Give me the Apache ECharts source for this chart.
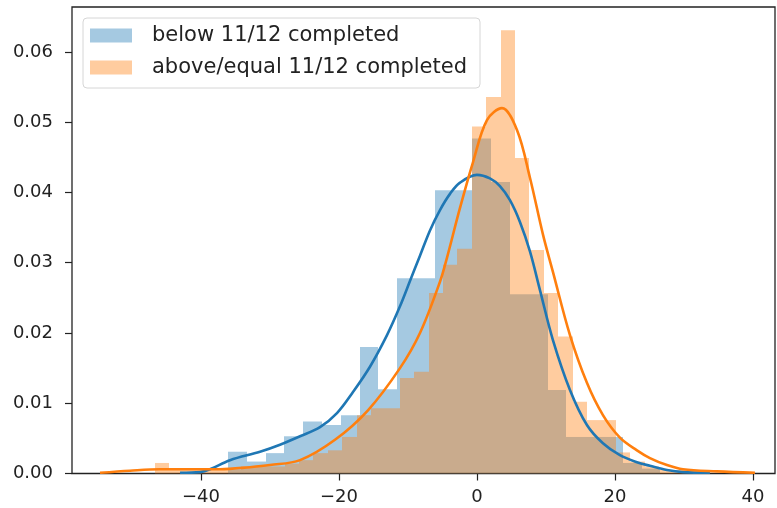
<!DOCTYPE html>
<html>
<head>
<meta charset="utf-8">
<script src="https://cdn.jsdelivr.net/npm/echarts@6/dist/echarts.min.js"></script>
<style>
html,body{margin:0;padding:0;background:#fff;}
#chart{width:777px;height:508px;}
</style>
</head>
<body>
<div id="chart"></div>
<script>
// ---- data ----
const seriesNames = ['below 11/12 completed', 'above/equal 11/12 completed'];

// blue histogram (density), equal-width bins
const blueBinStart = -36.09;
const blueBinWidth = 2.725;
const blueHeights = [0.0031, 0.0017, 0.0029, 0.0053, 0.0074, 0.0069, 0.0083, 0.0180, 0.0120, 0.0278,
  0.0278, 0.0403, 0.0403, 0.0477, 0.0415, 0.0255, 0.0255, 0.0119, 0.0052, 0.0052,
  0.0052, 0.0015, 0.0007];

// orange histogram (density), equal-width bins
const orangeBinStart = -46.67;
const orangeBinWidth = 2.087;
const orangeHeights = [0.0015, 0.0005, 0.0005, 0.0005, 0.0005, 0.0005, 0.0010, 0.0010, 0.0010, 0.0014,
  0.0019, 0.0029, 0.0033, 0.0052, 0.0083, 0.0093, 0.0093, 0.0136, 0.0145, 0.0257,
  0.0297, 0.0320, 0.0494, 0.0536, 0.0631, 0.0449, 0.0318, 0.0257, 0.0195, 0.0102,
  0.0076, 0.0076, 0.0030, 0.0017, 0.0010, 0.0005, 0.0005, 0.0005];

// KDE curves
const blueKdeX = [-43.04, -40.14, -38.70, -35.80, -31.45, -28.55, -25.65, -22.75, -20.29, -17.97,
  -15.51, -13.04, -11.16, -9.71, -8.26, -6.81, -5.36, -3.91, -2.46, 0.00,
  1.88, 3.33, 4.78, 6.23, 7.68, 9.13, 11.01, 13.48, 15.94, 18.26,
  20.72, 23.19, 25.07, 27.54, 29.86, 33.77];
const blueKdeY = [0.0001, 0.0002, 0.0006, 0.0019, 0.0031, 0.0041, 0.0053, 0.0066, 0.0086, 0.0116,
  0.0152, 0.0197, 0.0238, 0.0274, 0.0310, 0.0346, 0.0375, 0.0398, 0.0414, 0.0425,
  0.0420, 0.0409, 0.0389, 0.0358, 0.0316, 0.0261, 0.0190, 0.0119, 0.0069, 0.0043,
  0.0026, 0.0016, 0.0011, 0.0005, 0.0002, 0.0001];

const orangeKdeX = [-54.64, -50.29, -45.94, -41.59, -37.25, -32.90, -30.00, -25.65, -20.58, -15.80,
  -11.16, -8.26, -5.36, -4.35, -2.46, -0.58, 1.45, 3.62, 5.80, 7.68,
  9.57, 11.01, 13.48, 15.94, 18.26, 20.72, 23.19, 25.07, 27.54, 29.86,
  34.78, 40.29];
const orangeKdeY = [0.0001, 0.0004, 0.0006, 0.0006, 0.0006, 0.0009, 0.0012, 0.0019, 0.0048, 0.0090,
  0.0150, 0.0200, 0.0273, 0.0307, 0.0378, 0.0443, 0.0503, 0.0520, 0.0489, 0.0421,
  0.0340, 0.0287, 0.0197, 0.0129, 0.0083, 0.0051, 0.0033, 0.0022, 0.0012, 0.0006,
  0.0003, 0.0001];

// tick labels
const xTicks = [-40, -20, 0, 20, 40];
const yTicks = [0, 0.01, 0.02, 0.03, 0.04, 0.05, 0.06];

// ---- build ----
function histData(start, width, heights) {
  return heights.map((h, i) => [start + i * width, start + (i + 1) * width, h]);
}
function zip(xs, ys) { return xs.map((x, i) => [x, ys[i]]); }

const blueFill = 'rgba(31,119,180,0.4)';
const orangeFill = 'rgba(255,127,14,0.4)';

function makeRender(fill) {
  return function (params, api) {
    const p0 = api.coord([api.value(0), api.value(2)]);
    const p1 = api.coord([api.value(1), 0]);
    const x0 = Math.round(p0[0]), x1 = Math.round(p1[0]);
    return {
      type: 'rect',
      shape: { x: x0, y: p0[1], width: x1 - x0, height: p1[1] - p0[1] },
      style: { fill: fill }
    };
  };
}

const FONT = 'DejaVu Sans';
const chart = echarts.init(document.getElementById('chart'), null, { renderer: 'canvas' });
chart.setOption({
  animation: false,
  backgroundColor: '#fff',
  textStyle: { fontFamily: FONT },
  grid: {
    left: 72, right: 2, top: 7, bottom: 34.5,
    show: true, borderColor: '#222', borderWidth: 1.3, backgroundColor: 'transparent'
  },
  legend: {
    left: 83, top: 18,
    orient: 'vertical',
    data: [
      { name: seriesNames[0], itemStyle: { color: blueFill } },
      { name: seriesNames[1], itemStyle: { color: orangeFill } }
    ],
    icon: 'rect',
    itemWidth: 42, itemHeight: 14,
    itemGap: 9,
    padding: [6, 13, 9, 7],
    backgroundColor: 'rgba(255,255,255,0.85)',
    borderColor: '#d6d6d6', borderWidth: 1, borderRadius: 4,
    textStyle: { fontFamily: FONT, fontSize: 21, color: '#222', lineHeight: 23, padding: [0, 0, 0, 15] }
  },
  xAxis: {
    type: 'value', min: -58.7, max: 43.2,
    splitLine: { show: false },
    axisLine: { show: false, onZero: false },
    axisTick: { show: true, length: 7, lineStyle: { color: '#222', width: 1.2 }, customValues: xTicks },
    axisLabel: {
      customValues: xTicks, margin: 15,
      fontFamily: FONT, fontSize: 18, color: '#222',
      formatter: v => String(v).replace('-', '\u2212')
    }
  },
  yAxis: {
    type: 'value', min: 0, max: 0.0664,
    splitLine: { show: false },
    axisLine: { show: false, onZero: false },
    axisTick: { show: true, length: 7, lineStyle: { color: '#222', width: 1.2 }, customValues: yTicks },
    axisLabel: {
      customValues: yTicks, margin: 19,
      fontFamily: FONT, fontSize: 18, color: '#222',
      formatter: v => v.toFixed(2)
    }
  },
  series: [
    {
      name: seriesNames[0], type: 'custom', z: 2,
      itemStyle: { color: blueFill },
      encode: { x: [0, 1], y: 2 },
      renderItem: makeRender(blueFill),
      data: histData(blueBinStart, blueBinWidth, blueHeights)
    },
    {
      name: seriesNames[1], type: 'custom', z: 3,
      itemStyle: { color: orangeFill },
      encode: { x: [0, 1], y: 2 },
      renderItem: makeRender(orangeFill),
      data: histData(orangeBinStart, orangeBinWidth, orangeHeights)
    },
    {
      name: 'blueKde', type: 'line', z: 5, showSymbol: false, smooth: 0.35,
      lineStyle: { color: '#1f77b4', width: 2.6 }, itemStyle: { color: '#1f77b4' },
      data: zip(blueKdeX, blueKdeY)
    },
    {
      name: 'orangeKde', type: 'line', z: 6, showSymbol: false, smooth: 0.35,
      lineStyle: { color: '#ff7f0e', width: 2.6 }, itemStyle: { color: '#ff7f0e' },
      data: zip(orangeKdeX, orangeKdeY)
    }
  ]
});
</script>
</body>
</html>
